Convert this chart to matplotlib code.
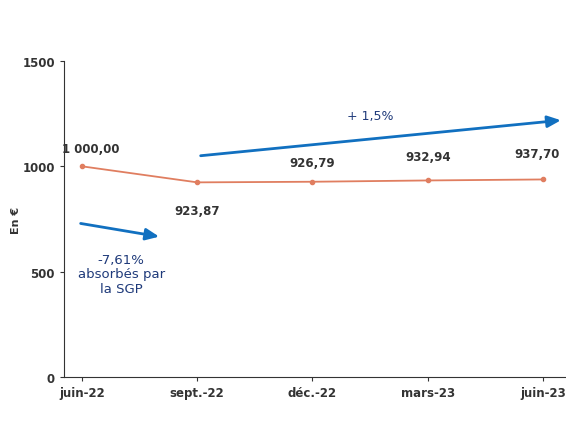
import matplotlib.pyplot as plt

mois = ["juin-22", "sept.-22", "déc.-22", "mars-23", "juin-23"]
valeurs = [1000.00, 923.87, 926.79, 932.94, 937.70]
etiquettes = ["1 000,00", "923,87", "926,79", "932,94", "937,70"]

fig = plt.figure(figsize=(5.66, 4.27), dpi=100)
ax = fig.add_axes([0.113, 0.1148, 0.887, 0.74])

x = list(range(len(mois)))
ax.plot(x, valeurs, color="#E07E60", lw=1.3, marker="o", ms=3)

# labels of the points
decal = [(6, 13), (0, -20), (0, 14), (0, 17), (-4, 19)]
for i, v in enumerate(valeurs):
    ax.annotate(etiquettes[i], (i, v), xytext=decal[i], textcoords="offset points",
                ha="center", va="center", fontsize=8.5, color="#333333", fontweight="bold")

ax.set_xlim(-0.156, 4.2)
ax.set_ylim(0, 1500)
ax.set_yticks([0, 500, 1000, 1500])
ax.set_xticks(x)
ax.set_xticklabels(mois)
ax.tick_params(labelsize=8.5, colors="#333333", length=3)
for lab in ax.get_xticklabels() + ax.get_yticklabels():
    lab.set_fontweight("bold")
ax.spines["top"].set_visible(False)
ax.spines["right"].set_visible(False)
ax.spines["left"].set_color("#333333")
ax.spines["bottom"].set_color("#333333")

ax.set_ylabel("En €", fontsize=8, fontweight="bold", color="#333333")
ax.yaxis.set_label_coords(-0.085, 0.5)

# arrows
ax.annotate("", xy=(0.694, 664), xytext=(-0.035, 731),
            arrowprops=dict(arrowstyle="-|>,head_length=0.8,head_width=0.35", color="#1170C0", lw=2))
ax.annotate("", xy=(4.18, 1220), xytext=(1.006, 1049), annotation_clip=False,
            arrowprops=dict(arrowstyle="-|>,head_length=0.8,head_width=0.35", color="#1170C0", lw=2))
ax.text(2.5, 1239, "+ 1,5%", ha="center", va="center", fontsize=9, color="#1F3A7A")
ax.text(0.34, 489, "-7,61%\nabsorbés par\nla SGP", ha="center", va="center",
        fontsize=9.5, color="#1F3A7A", linespacing=1.15)

fig.savefig("out.png", dpi=100)
